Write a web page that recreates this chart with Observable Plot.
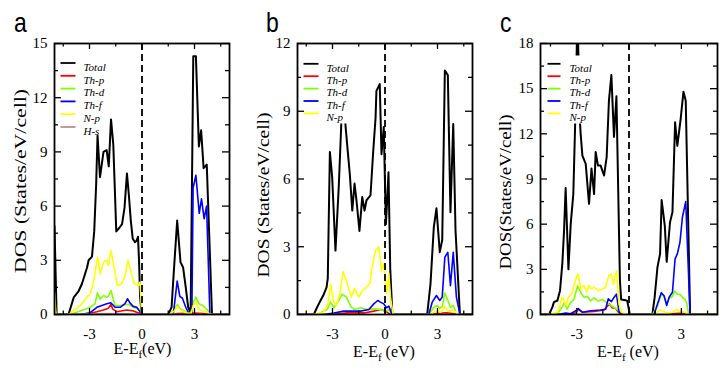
<!DOCTYPE html>
<html>
<head>
<meta charset="utf-8">
<script src="https://cdn.jsdelivr.net/npm/d3@7"></script>
<script src="https://cdn.jsdelivr.net/npm/@observablehq/plot@0.6"></script>
<style>
  html, body { margin: 0; padding: 0; background: #fff; }
  #root { position: relative; width: 727px; height: 374px; overflow: hidden; background: #fff; }
  #root > svg { position: absolute; top: 0; }
  #overlay { position: absolute; left: 0; top: 0; pointer-events: none; }
</style>
</head>
<body>
<div id="root"></div>
<script>
// ---------------- DATA (energy E-Ef in eV, DOS in states/eV/cell) ----------------
const seriesNames = ["Total", "Th-p", "Th-d", "Th-f", "N-p", "H-s"];

// Panel a
const aTotal = [[-5,4.9],[-4.88,0],[-4.2,0],[-3.9,0.95],[-3.62,1.3],[-3.43,1.7],[-3.14,2.6],[-3.05,3.0],[-2.86,3.2],[-2.73,4.6],[-2.62,7.2],[-2.54,9.9],[-2.4,7.6],[-2.2,9.0],[-2.02,9.1],[-1.9,8.2],[-1.77,10.8],[-1.64,9.4],[-1.47,4.6],[-1.29,4.8],[-1.14,5.0],[-1.0,5.9],[-0.86,7.8],[-0.75,6.6],[-0.64,5.2],[-0.53,4.2],[-0.4,4.0],[-0.3,4.1],[-0.23,4.3],[-0.17,3.0],[-0.11,1.0],[-0.02,0],[1.5,0],[1.69,0.4],[1.82,2.4],[2.01,5.2],[2.2,2.9],[2.35,2.6],[2.5,1.5],[2.64,0.4],[2.78,0.1],[2.93,14.3],[3.08,14.3],[3.25,9.3],[3.38,10.2],[3.52,8.1],[3.7,8.3],[4.0,0],[5,0]];
const aThp = [[-5,0],[-3.34,0],[-2.58,0.15],[-2.2,0.25],[-1.92,0.35],[-1.78,0.56],[-1.67,0.3],[-1.44,0.15],[-0.87,0.25],[-0.5,0.2],[-0.11,0.05],[0,0],[1.8,0],[2.0,0.05],[3.0,0.08],[3.5,0.05],[3.9,0],[5,0]];
const aThd = [[-5,0.3],[-4.9,0],[-4.1,0],[-3.53,0.2],[-2.96,0.4],[-2.68,0.6],[-2.55,1.2],[-2.4,0.85],[-2.2,1.05],[-2.0,0.95],[-1.9,1.05],[-1.77,1.33],[-1.63,0.8],[-1.54,0.5],[-1.25,0.5],[-0.95,0.55],[-0.78,0.56],[-0.5,0.4],[-0.21,0.3],[-0.02,0],[1.6,0],[1.85,0.3],[2.01,0.55],[2.2,0.3],[2.5,0.15],[2.78,0.05],[2.93,0.7],[3.08,0.96],[3.25,0.6],[3.45,0.5],[3.7,0.3],[3.95,0],[5,0]];
const aThf = [[-5,0],[-3.53,0],[-2.96,0.1],[-2.58,0.4],[-2.29,0.5],[-2.01,0.6],[-1.78,0.65],[-1.54,0.4],[-1.25,0.4],[-0.97,0.6],[-0.83,0.87],[-0.68,0.63],[-0.5,0.45],[-0.3,0.4],[-0.15,0.2],[-0.02,0],[1.7,0],[1.8,0.1],[2.01,1.85],[2.16,1.0],[2.31,0.9],[2.5,0.4],[2.69,0.05],[2.85,0.05],[2.92,7.0],[3.08,7.7],[3.27,5.6],[3.4,6.4],[3.55,5.3],[3.69,6.0],[3.88,0],[5,0]];
const aNp = [[-5,1.2],[-4.92,0],[-4.19,0],[-3.91,0.22],[-3.53,0.5],[-3.15,0.96],[-2.96,1.14],[-2.77,1.79],[-2.54,3.17],[-2.39,2.25],[-2.2,2.9],[-2.01,3.0],[-1.92,2.7],[-1.78,3.54],[-1.63,2.8],[-1.41,1.6],[-1.16,1.7],[-0.97,2.16],[-0.8,3.0],[-0.59,2.25],[-0.44,1.7],[-0.21,1.6],[-0.11,1.79],[-0.02,0],[1.6,0],[1.85,0.2],[2.01,0.45],[2.2,0.25],[2.5,0.1],[2.8,0.05],[2.93,0.5],[3.08,0.68],[3.25,0.3],[3.5,0.2],[3.7,0.13],[3.95,0],[5,0]];
const aHs = [[-5,0],[-4.0,0],[-3.0,0.03],[-2.0,0.05],[-1.0,0.04],[0,0],[5,0]];

// Panel b
const bTotal = [[-5,0],[-4.07,0],[-3.88,0.32],[-3.73,0.55],[-3.53,0.84],[-3.34,1.2],[-3.27,1.6],[-3.15,7.2],[-3.02,6.1],[-2.83,2.83],[-2.64,5.7],[-2.5,8.4],[-2.4,10.5],[-2.3,9.8],[-2.26,8.4],[-2.16,7.5],[-2.01,6.2],[-1.87,4.6],[-1.74,5.8],[-1.63,5.05],[-1.46,3.7],[-1.3,5.2],[-1.17,4.6],[-1.06,5.05],[-0.83,5.27],[-0.67,7.26],[-0.54,8.7],[-0.49,9.9],[-0.3,10.2],[-0.2,7.1],[-0.07,8.3],[0.05,4.0],[0.12,5.0],[0.2,6.3],[0.3,2.0],[0.42,0],[2.41,0],[2.6,1.36],[2.79,3.87],[2.94,4.7],[3.13,2.76],[3.27,3.3],[3.42,10.8],[3.59,10.6],[3.74,4.53],[3.9,8.44],[4.03,3.72],[4.28,0],[5,0]];
const bThp = [[-5,0],[-3.1,0],[-2.16,0.07],[-1.21,0.07],[-0.64,0.15],[-0.26,0.22],[0.03,0.15],[0.31,0],[2.6,0],[3.0,0.05],[3.5,0.08],[4.0,0.03],[4.2,0],[5,0]];
const bThd = [[-5,0],[-3.88,0],[-3.3,0.22],[-3.11,0.55],[-2.92,0.3],[-2.64,0.62],[-2.45,0.9],[-2.35,0.84],[-2.2,0.77],[-1.93,0.32],[-1.74,0.22],[-1.4,0.3],[-1.02,0.22],[-0.64,0.25],[-0.26,0.22],[0.03,0.15],[0.22,0.22],[0.4,0],[2.5,0],[2.79,0.32],[2.98,0.4],[3.13,0.27],[3.27,0.35],[3.42,0.95],[3.59,0.62],[3.74,0.32],[3.9,0.4],[4.1,0],[5,0]];
const bThf = [[-5,0],[-3.5,0],[-2.92,0.07],[-2.35,0.15],[-1.93,0.15],[-1.4,0.15],[-0.92,0.22],[-0.64,0.47],[-0.41,0.62],[-0.26,0.55],[-0.07,0.47],[0.09,0.3],[0.22,0.37],[0.4,0],[2.5,0],[2.7,0.55],[2.94,0.84],[3.13,0.62],[3.27,0.77],[3.42,2.54],[3.59,2.75],[3.74,1.28],[3.9,2.75],[4.08,0.77],[4.28,0],[5,0]];
const bNp = [[-5,0],[-4.07,0],[-3.5,0.1],[-3.26,0.47],[-3.11,1.35],[-2.96,0.62],[-2.79,0.4],[-2.58,0.92],[-2.4,1.9],[-2.16,1.36],[-1.93,0.77],[-1.74,1.14],[-1.49,0.77],[-1.3,1.06],[-1.06,1.2],[-0.87,1.36],[-0.71,2.24],[-0.54,2.83],[-0.35,3.0],[-0.2,1.94],[-0.07,2.24],[0.09,0.92],[0.22,1.8],[0.31,0.77],[0.46,0],[2.6,0],[2.9,0.15],[3.2,0.1],[3.42,0.35],[3.6,0.15],[3.9,0.2],[4.2,0],[5,0]];

// Panel c
const cTotal = [[-5.07,0],[-4.58,0],[-4.39,0.49],[-4.3,0.82],[-4.1,0.93],[-3.95,1.6],[-3.82,3.37],[-3.72,5.58],[-3.63,8.4],[-3.47,3.0],[-3.34,6.0],[-3.19,8.0],[-3.09,12.4],[-2.95,20],[-2.82,13.0],[-2.77,12.0],[-2.67,10.56],[-2.48,10.0],[-2.29,7.35],[-2.15,9.7],[-2.0,8.0],[-1.91,10.8],[-1.78,9.9],[-1.63,9.9],[-1.43,9.23],[-1.28,10.45],[-1.15,14.2],[-1.01,15.9],[-0.86,11.8],[-0.72,14.5],[-0.52,2.26],[-0.45,1.0],[-0.2,0.95],[-0.1,0.9],[0.05,0],[1.34,0],[1.47,1.15],[1.63,3.14],[1.78,4.03],[1.87,7.6],[2.05,5.9],[2.16,3.5],[2.35,6.13],[2.49,6.8],[2.64,12.77],[2.77,11.2],[2.96,13.0],[3.12,14.8],[3.25,14.2],[3.5,0],[5.07,0]];
const cThp = [[-5.07,0],[-3.72,0],[-3.05,0.1],[-2.92,0.35],[-2.67,0.15],[-2.0,0.2],[-1.43,0.3],[-1.12,0.7],[-0.96,0.45],[-0.77,0.4],[-0.57,0.1],[-0.38,0],[2.2,0],[2.5,0.05],[3.0,0.1],[3.3,0.05],[3.5,0],[5.07,0]];
const cThd = [[-5.07,0],[-4.58,0],[-4.1,0.05],[-3.82,0.5],[-3.7,0.8],[-3.55,0.35],[-3.34,0.8],[-3.15,1.0],[-2.95,1.9],[-2.73,1.4],[-2.58,1.15],[-2.39,1.2],[-2.2,0.9],[-2.0,1.1],[-1.78,0.9],[-1.53,1.0],[-1.24,0.75],[-0.96,0.55],[-0.67,0.33],[-0.48,0.1],[-0.28,0],[1.34,0],[1.63,0.55],[1.85,1.35],[2.0,1.2],[2.16,0.75],[2.3,1.05],[2.49,1.2],[2.62,1.55],[2.77,1.35],[2.92,1.35],[3.06,1.15],[3.2,1.0],[3.3,0.8],[3.42,0],[5.07,0]];
const cThf = [[-5.07,0],[-4.1,0],[-3.62,0.1],[-3.34,0.05],[-3.05,0.25],[-2.92,0.4],[-2.67,0.15],[-2.2,0.25],[-1.63,0.3],[-1.34,0.35],[-1.19,1.04],[-1.01,0.85],[-0.85,1.15],[-0.72,1.35],[-0.57,0.17],[-0.38,0],[1.44,0],[1.63,0.7],[1.85,1.45],[2.01,1.25],[2.16,0.6],[2.3,1.15],[2.49,1.48],[2.64,3.7],[2.77,4.03],[2.92,4.8],[3.06,6.46],[3.25,7.5],[3.5,0],[5.07,0]];
const cNp = [[-5.07,0],[-4.58,0],[-4.1,0.13],[-3.82,1.15],[-3.72,0.93],[-3.6,0.6],[-3.47,1.15],[-3.28,1.37],[-3.05,2.37],[-2.92,2.7],[-2.77,1.71],[-2.58,1.93],[-2.42,1.49],[-2.29,1.93],[-2.15,1.71],[-2.0,1.8],[-1.78,1.6],[-1.53,1.7],[-1.34,1.8],[-1.15,2.59],[-1.01,2.7],[-0.9,2.0],[-0.72,2.9],[-0.57,0.71],[-0.44,0.15],[-0.1,0],[1.5,0],[1.75,0.3],[2.0,0.2],[2.2,0.1],[2.5,0.15],[2.7,0.35],[2.9,0.2],[3.2,0.15],[3.4,0],[5.07,0]];

// Tick values
const xTicks = [-3, 0, 3];
const xMinorTicks = [-4.5, -1.5, 1.5, 4.5];
const aYTicks = [0, 3, 6, 9, 12, 15];
const bYTicks = [0, 3, 6, 9, 12];
const cYTicks = [0, 3, 6, 9, 12, 15, 18];

// ---------------- STYLE ----------------
const colorOf = {"Total": "#000000", "Th-p": "#ff0000", "Th-d": "#7fff00", "Th-f": "#0000ff", "N-p": "#ffff00", "H-s": "#bc8f8f"};
const HEIGHT = 374, MT = 43, MB = 60;

function makePanel(cfg) {
  const W = cfg.width - cfg.ml - cfg.mr;
  const H = HEIGHT - MT - MB;
  const yMax = cfg.yTicks[cfg.yTicks.length - 1];
  const yMinor = [];
  for (let i = 0; i < cfg.yTicks.length - 1; i++) yMinor.push((cfg.yTicks[i] + cfg.yTicks[i + 1]) / 2);
  const marks = [];
  cfg.names.forEach((n, i) => {
    marks.push(Plot.line(cfg.series[i], {x: d => d[0], y: d => d[1], stroke: colorOf[n], strokeWidth: n === "Total" ? 2 : 1.6, clip: true}));
  });
  marks.push(Plot.ruleX([0], {stroke: "black", strokeWidth: 1.8, strokeDasharray: "7,4"}));
  // legend background box
  const b = cfg.box;
  marks.push(Plot.frame({fill: "white", stroke: "none", insetLeft: b.l, insetTop: b.t, insetRight: W - b.r, insetBottom: H - b.b}));
  const L = cfg.leg;
  cfg.names.forEach((n, i) => {
    const cy = L.y0 + i * L.dy;
    marks.push(Plot.frame({fill: colorOf[n], stroke: "none", insetLeft: L.sx, insetRight: W - L.sx - L.sl, insetTop: cy - 0.9, insetBottom: H - cy - 0.9}));
    marks.push(Plot.text([n], {text: d => d, frameAnchor: "top-left", dx: L.tx, dy: cy, textAnchor: "start", fontStyle: "italic", fontSize: 11, fill: "black"}));
  });
  // inward ticks on all four sides
  marks.push(Plot.tickX(xTicks, {x: d => d, insetTop: H - 6, stroke: "black", strokeWidth: 1.3}));
  marks.push(Plot.tickX(xTicks, {x: d => d, insetBottom: H - 6, stroke: "black", strokeWidth: 1.3}));
  marks.push(Plot.tickX(xMinorTicks, {x: d => d, insetTop: H - 3.5, stroke: "black", strokeWidth: 1.3}));
  marks.push(Plot.tickX(xMinorTicks, {x: d => d, insetBottom: H - 3.5, stroke: "black", strokeWidth: 1.3}));
  marks.push(Plot.tickY(cfg.yTicks, {y: d => d, insetRight: W - 7, stroke: "black", strokeWidth: 1.3}));
  marks.push(Plot.tickY(cfg.yTicks, {y: d => d, insetLeft: W - 7, stroke: "black", strokeWidth: 1.3}));
  marks.push(Plot.tickY(yMinor, {y: d => d, insetRight: W - 4, stroke: "black", strokeWidth: 1.3}));
  marks.push(Plot.tickY(yMinor, {y: d => d, insetLeft: W - 4, stroke: "black", strokeWidth: 1.3}));
  marks.push(Plot.axisX(xTicks, {tickSize: 0, tickPadding: 14, tickFormat: d => String(d), label: null, fontSize: 15}));
  marks.push(Plot.axisY(cfg.yTicks, {tickSize: 0, tickPadding: 7, tickFormat: d => String(d), label: null, fontSize: 15}));
  marks.push(Plot.frame({stroke: "black", strokeWidth: 1.8}));

  const svg = Plot.plot({
    width: cfg.width, height: HEIGHT,
    marginLeft: cfg.ml, marginRight: cfg.mr, marginTop: MT, marginBottom: MB,
    x: {domain: cfg.xDomain},
    y: {domain: [0, yMax]},
    style: {fontFamily: "'Liberation Serif', 'Times New Roman', serif", fontSize: "15px", color: "black", background: "transparent", overflow: "visible"},
    marks
  });
  svg.style.left = cfg.left + "px";
  return svg;
}

const root = document.getElementById("root");
root.appendChild(makePanel({
  left: 0, width: 240, ml: 54, mr: 11, xDomain: [-5, 5], yTicks: aYTicks,
  names: seriesNames, series: [aTotal, aThp, aThd, aThf, aNp, aHs],
  box: {l: 3, t: 10, r: 51, b: 88},
  leg: {sx: 6, sl: 15, tx: 29, y0: 19.5, dy: 12.8}
}));
root.appendChild(makePanel({
  left: 240, width: 240, ml: 57, mr: 8, xDomain: [-5, 5], yTicks: bYTicks,
  names: seriesNames.slice(0, 5), series: [bTotal, bThp, bThd, bThf, bNp],
  box: {l: 3, t: 10, r: 63, b: 80},
  leg: {sx: 6, sl: 15, tx: 29, y0: 20.3, dy: 12.4}
}));
root.appendChild(makePanel({
  left: 480, width: 247, ml: 60, mr: 10, xDomain: [-5.07, 5.07], yTicks: cYTicks,
  names: seriesNames.slice(0, 5), series: [cTotal, cThp, cThd, cThf, cNp],
  box: {l: 3, t: 12, r: 58, b: 80},
  leg: {sx: 7, sl: 13, tx: 29, y0: 20.3, dy: 12.4}
}));

// ---------------- Overlay text: panel letters and axis titles ----------------
const ov = d3.select(root).append("svg").attr("id", "overlay").attr("width", 727).attr("height", 374);
const letters = [["a", 14, 32], ["b", 266, 32], ["c", 500, 32]];
letters.forEach(([t, x, y]) => {
  ov.append("text").attr("transform", `translate(${x},${y}) scale(1,1.2)`)
    .attr("font-family", "'Liberation Sans', Arial, sans-serif").attr("font-size", 23).attr("fill", "black").text(t);
});
const ylabels = [["DOS (States/eV/cell)", 20, 181, 184], ["DOS (States/eV/cell)", 263, 195, 165], ["DOS(States/eV/cell)", 505, 192, 155]];
ylabels.forEach(([t, x, y, len]) => {
  ov.append("text").attr("transform", `translate(${x},${y}) rotate(-90)`)
    .attr("text-anchor", "middle").attr("dominant-baseline", "central")
    .attr("font-family", "'Liberation Serif', 'Times New Roman', serif").attr("font-size", 17)
    .attr("textLength", len).attr("lengthAdjust", "spacingAndGlyphs").attr("fill", "black").text(t);
});
const xlabels = [["(eV)", 142.5, 354], [" (eV)", 384, 357], [" (eV)", 628, 357]];
xlabels.forEach(([tail, x, y]) => {
  const t = ov.append("text").attr("x", x).attr("y", y).attr("text-anchor", "middle")
    .attr("font-family", "'Liberation Serif', 'Times New Roman', serif").attr("font-size", 16).attr("fill", "black");
  t.append("tspan").text("E-E");
  t.append("tspan").attr("dy", 4).attr("font-size", 11).text("f");
  t.append("tspan").attr("dy", -4).attr("xml:space", "preserve").text(tail);
  t.attr("xml:space", "preserve");
});
</script>
</body>
</html>
